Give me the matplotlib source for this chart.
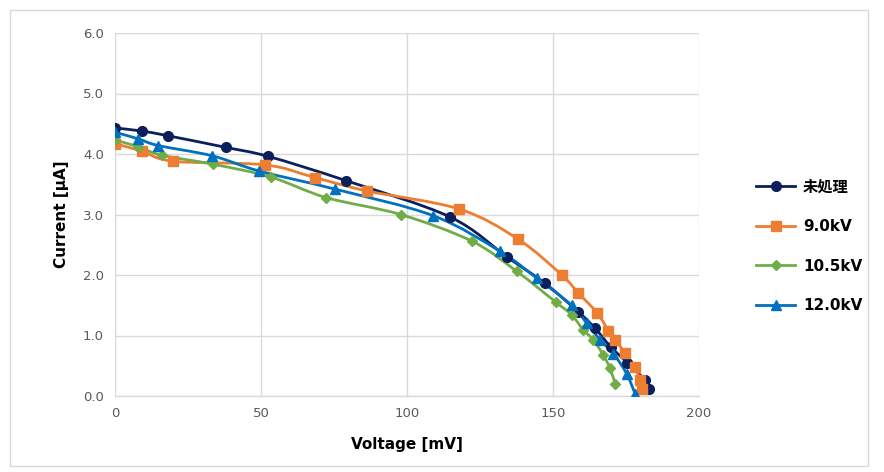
import numpy as np
import matplotlib
matplotlib.use("Agg")
import matplotlib.pyplot as plt
from matplotlib.path import Path
from matplotlib.patches import PathPatch, Rectangle
from matplotlib.lines import Line2D

plt.rcParams["font.family"] = ["DejaVu Sans", "Noto Sans CJK JP"]

labels = ["未処理", "9.0kV", "10.5kV", "12.0kV"]
colors = ["#0B1F5C", "#ED7D31", "#70AD47", "#0070C0"]
markers = ["o", "s", "D", "^"]
msizes = [7, 6.5, 5, 7.5]

v_untreated = [0, 9.1, 18.3, 37.9, 52.5, 79.1, 114.7, 134.2, 147.3, 158.7, 164.4, 169.8, 175.5, 181.5, 183.0]
i_untreated = [4.43, 4.38, 4.30, 4.11, 3.96, 3.56, 2.96, 2.30, 1.86, 1.39, 1.12, 0.81, 0.55, 0.26, 0.12]

v_90 = [0, 9.1, 20.0, 51.4, 68.5, 86.2, 117.9, 138.1, 153.0, 158.7, 165.0, 169.0, 171.3, 174.7, 178.1, 179.8, 180.4]
i_90 = [4.17, 4.05, 3.88, 3.82, 3.61, 3.39, 3.09, 2.59, 2.00, 1.70, 1.38, 1.08, 0.93, 0.71, 0.48, 0.26, 0.12]

v_105 = [0, 8.0, 16.0, 33.7, 53.3, 72.3, 97.8, 122.2, 137.6, 151.0, 156.4, 160.4, 163.8, 167.2, 169.5, 171.3]
i_105 = [4.23, 4.12, 3.98, 3.83, 3.62, 3.28, 3.00, 2.56, 2.06, 1.55, 1.34, 1.09, 0.93, 0.68, 0.46, 0.20]

v_120 = [0, 8.0, 14.8, 33.3, 49.3, 75.3, 109.0, 131.9, 144.4, 156.4, 161.6, 166.1, 170.7, 175.2, 178.1]
i_120 = [4.36, 4.25, 4.14, 3.97, 3.72, 3.42, 2.98, 2.39, 1.95, 1.50, 1.20, 0.93, 0.70, 0.37, 0.04]

series = [(v_untreated, i_untreated), (v_90, i_90), (v_105, i_105), (v_120, i_120)]


def smooth_path(x, y, t=1 / 6):
    # Excel-like smoothed line: Bezier segments through the data points
    p = np.column_stack([x, y])
    verts = [p[0]]
    codes = [Path.MOVETO]
    n = len(p)
    for k in range(n - 1):
        p0 = p[k - 1] if k > 0 else p[k]
        p3 = p[k + 2] if k + 2 < n else p[k + 1]
        c1 = p[k] + (p[k + 1] - p0) * t
        c2 = p[k + 1] - (p3 - p[k]) * t
        verts += [c1, c2, p[k + 1]]
        codes += [Path.CURVE4] * 3
    return Path(verts, codes)


fig = plt.figure(figsize=(8.84, 4.72), dpi=100)
fig.patches.append(Rectangle((10 / 884, 6 / 472), 858 / 884, 456 / 472,
                             transform=fig.transFigure, fill=False,
                             edgecolor="#D9D9D9", linewidth=1.0))
ax = fig.add_axes([115 / 884, 76 / 472, 584 / 884, 363 / 472])

for (x, y), c, m, ms in zip(series, colors, markers, msizes):
    ax.add_patch(PathPatch(smooth_path(x, y), facecolor="none", edgecolor=c,
                           linewidth=2.0, zorder=3))
    ax.plot(x, y, linestyle="none", marker=m, color=c, markersize=ms, zorder=4)

ax.set_xlim(0, 200)
ax.set_ylim(0, 6)
ax.set_xticks(np.arange(0, 201, 50))
ax.set_yticks(np.arange(0, 6.1, 1))
ax.set_yticklabels([f"{v:.1f}" for v in np.arange(0, 6.1, 1)])
ax.grid(True, color="#D9D9D9", linewidth=1.0)
ax.set_axisbelow(True)
for s in ["top", "right", "left"]:
    ax.spines[s].set_visible(False)
ax.spines["bottom"].set_color("#D9D9D9")
ax.spines["bottom"].set_linewidth(1.0)
ax.tick_params(length=0, labelsize=9.5, labelcolor="#595959", pad=8)

ax.set_xlabel("Voltage [mV]", fontsize=11, fontweight="bold", labelpad=12)
ax.set_ylabel("Current [μA]", fontsize=11, fontweight="bold", labelpad=10)

handles = [Line2D([], [], color=c, marker=m, linewidth=2.0, markersize=ms)
           for c, m, ms in zip(colors, markers, msizes)]
leg = fig.legend(handles, labels, loc="upper left",
                 bbox_to_anchor=(742 / 884, (472 - 166) / 472),
                 frameon=False, handlelength=2.6, labelspacing=1.6,
                 handletextpad=0.5,
                 prop={"family": ["DejaVu Sans", "Noto Sans CJK JP"],
                       "size": 11, "weight": "bold"})

fig.savefig("out.png", dpi=100)
